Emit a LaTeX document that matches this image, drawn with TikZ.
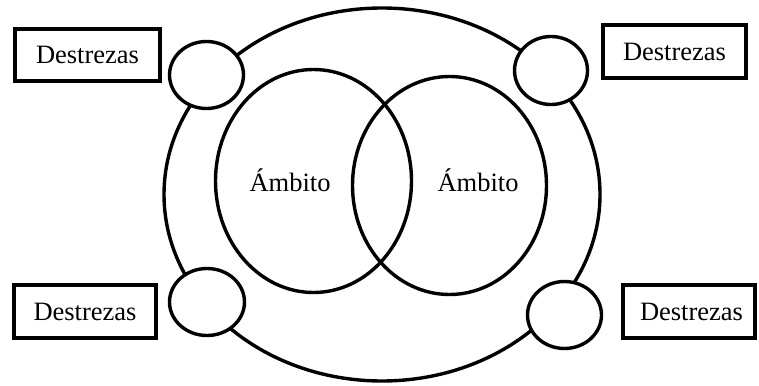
\documentclass[tikz,border=0pt]{standalone}
\usepackage{fontspec}
\setmainfont{Liberation Serif}
\usetikzlibrary{shapes.geometric}
\begin{document}
\begin{tikzpicture}[x=1pt,y=-1pt,
  ring/.style={draw,ellipse,line width=3.4pt,inner sep=0pt},
  smallring/.style={ring,fill=white},
  labelbox/.style={draw,rectangle,line width=3.8pt,inner sep=0pt,font=\fontsize{26.5}{30}\selectfont},
  ambit/.style={font=\fontsize{26.5}{30}\selectfont,inner sep=0pt}]
\useasboundingbox (0,0) rectangle (759,385);
% outer ellipse
\node[ring,minimum width=436pt,minimum height=373pt] (outer) at (382,194.5) {};
% inner ellipses
\node[ring,minimum width=196pt,minimum height=223pt] (left) at (313.5,181) {};
\node[ring,minimum width=194pt,minimum height=218pt] (right) at (449.5,185.5) {};
\node[ambit] (ltext) at (290,180) {Ámbito};
\node[ambit] (rtext) at (478,180) {Ámbito};
% small circles
\node[smallring,minimum width=74pt,minimum height=67pt] (ctl) at (206.5,75) {};
\node[smallring,minimum width=73pt,minimum height=68pt] (ctr) at (551,70.5) {};
\node[smallring,minimum width=75pt,minimum height=67pt] (cbl) at (207,302) {};
\node[smallring,minimum width=74pt,minimum height=67pt] (cbr) at (564.5,315) {};
% boxes
\node[labelbox,minimum width=145.5pt,minimum height=52.5pt] (btl) at (87.5,55) {Destrezas};
\node[labelbox,minimum width=143.5pt,minimum height=53.5pt] (btr) at (674.5,51.5) {Destrezas};
\node[labelbox,minimum width=142.5pt,minimum height=53.5pt] (bbl) at (85,311.5) {Destrezas};
\node[labelbox,minimum width=132.5pt,minimum height=53.5pt] (bbr) at (689,311.5) {\hspace*{5pt}Destrezas};
\end{tikzpicture}
\end{document}
